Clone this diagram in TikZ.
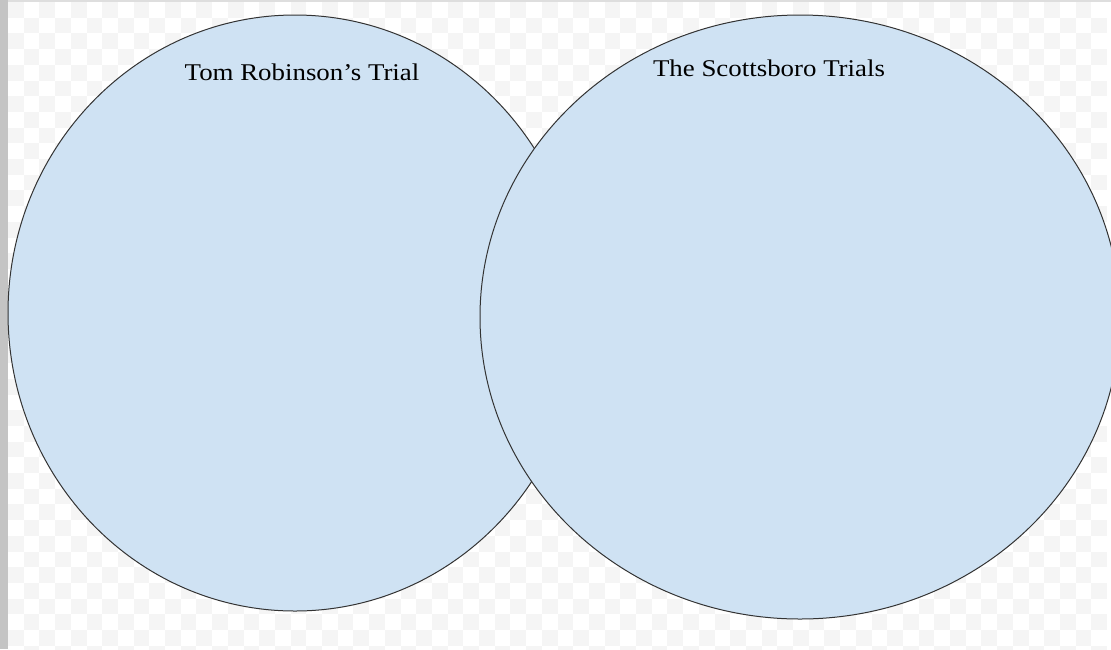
\documentclass[tikz,border=0pt]{standalone}
\usepackage{fontspec}
\setmainfont{Liberation Serif}
\newfontfamily\titlefont[FakeStretch=1.12]{Liberation Serif}
\usetikzlibrary{shapes.geometric}
\definecolor{venn}{HTML}{CFE2F3}
\definecolor{edge}{HTML}{333333}
\definecolor{chk}{HTML}{F5F5F5}
\definecolor{bar}{HTML}{C4C4C4}
\tikzset{
  vennset/.style={ellipse, draw=edge, line width=1pt, fill=venn, inner sep=0pt},
  vtitle/.style={anchor=base, font=\titlefont\fontsize{24}{27}\selectfont, text=black}
}
\begin{document}
\begin{tikzpicture}[x=1pt,y=-1pt]
\useasboundingbox (0,0) rectangle (1111,649);
\fill[white] (0,0) rectangle (1111,649);
\foreach \i in {0,...,69}{
  \foreach \j in {0,...,41}{
    \pgfmathtruncatemacro{\parity}{mod(\i+\j,2)}
    \ifnum\parity=0
      \fill[chk] (8+\i*15.7,2+\j*15.7) rectangle +(15.7,15.7);
    \fi
  }
}
\fill[bar] (0,0) rectangle (8,649);
\fill[chk!80!gray] (8,0) rectangle (1111,2);
\node[vennset, minimum width=574pt, minimum height=596pt] (tom) at (295,313) {};
\node[vennset, minimum width=640pt, minimum height=604pt] (scot) at (800,317) {};
\node[vtitle] (tomt) at (302,80) {Tom Robinson’s Trial};
\node[vtitle] (scott) at (769,76) {The Scottsboro Trials};
\end{tikzpicture}
\end{document}
